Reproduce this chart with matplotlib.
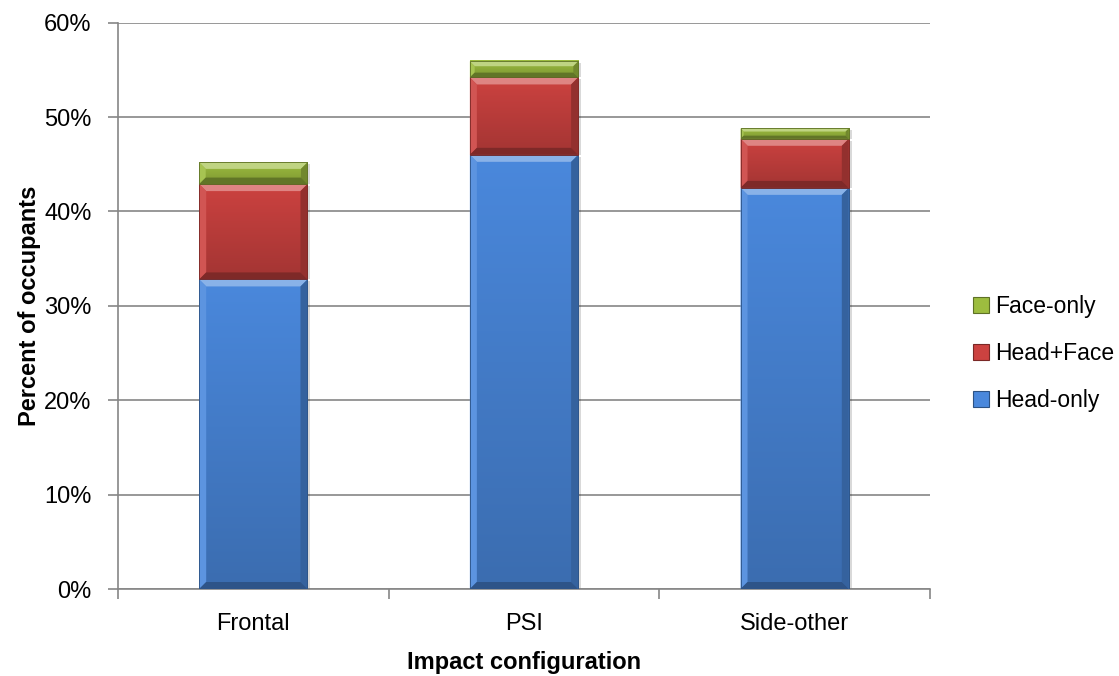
import matplotlib.pyplot as plt
import numpy as np
from matplotlib.patches import Polygon, Rectangle
from matplotlib.colors import to_rgb
from matplotlib.ticker import FuncFormatter, FixedLocator

plt.rcParams['font.family'] = ['Liberation Sans', 'DejaVu Sans']

categories = ["Frontal", "PSI", "Side-other"]
head_only = [32.8, 46.0, 42.5]
head_face = [10.1, 8.2, 5.2]
face_only = [2.3, 1.7, 1.1]

series_names = ["Head-only", "Head+Face", "Face-only"]
series_colors = ["#4a88dc", "#cc4240", "#9dbd3f"]

W, H, DPI = 11.19, 6.76, 100
fig = plt.figure(figsize=(W, H), dpi=DPI)
left, right, bottom, top = 118 / 1119, 930 / 1119, 1 - 589 / 676, 1 - 22.7 / 676
ax = fig.add_axes([left, bottom, right - left, top - bottom])

ymax = 60
ax.set_xlim(-0.5, len(categories) - 0.5)
ax.set_ylim(0, ymax)

# pixel -> data scales for the bevel edges
px_x = len(categories) / ((right - left) * W * DPI)
px_y = ymax / ((top - bottom) * H * DPI)


def mix(c, other, t):
    c = np.array(to_rgb(c))
    return tuple(c * (1 - t) + np.array(other) * t)


def bevel_bar(x0, y0, w, h, color):
    x1, y1 = x0 + w, y0 + h
    # soft shadow to the right
    ax.add_patch(Rectangle((x0 + 3 * px_x, y0), w, h - 2 * px_y, color='#000000',
                           alpha=0.15, lw=0, zorder=2))
    # body with vertical gradient, darker toward the bottom
    g = np.linspace(0, 1, 64)
    cols = np.array([mix(color, (0, 0, 0), 0.2 * (1 - t)) for t in g])
    ax.imshow(cols[:, None, :], extent=(x0, x1, y0, y1), origin='lower',
              aspect='auto', zorder=3, interpolation='bilinear')
    b = min(7, 0.3 * h / px_y)
    bx, by = b * px_x, b * px_y
    faces = [
        ([(x0, y1), (x1, y1), (x1 - bx, y1 - by), (x0 + bx, y1 - by)], mix(color, (1, 1, 1), 0.35)),
        ([(x0, y0), (x0, y1), (x0 + bx, y1 - by), (x0 + bx, y0 + by)], mix(color, (1, 1, 1), 0.1)),
        ([(x1, y0), (x1, y1), (x1 - bx, y1 - by), (x1 - bx, y0 + by)], mix(color, (0, 0, 0), 0.28)),
        ([(x0, y0), (x1, y0), (x1 - bx, y0 + by), (x0 + bx, y0 + by)], mix(color, (0, 0, 0), 0.38)),
    ]
    for pts, fc in faces:
        ax.add_patch(Polygon(pts, closed=True, facecolor=fc, lw=0, zorder=4))
    ax.add_patch(Rectangle((x0, y0), w, h, fill=False, ec=mix(color, (0, 0, 0), 0.4),
                           lw=0.6, zorder=5))


x = np.arange(len(categories))
bar_w = 0.40
base = np.zeros(len(categories))
for name, vals, color in zip(series_names, [head_only, head_face, face_only], series_colors):
    for xi, b0, v in zip(x, base, vals):
        bevel_bar(xi - bar_w / 2, b0, bar_w, v, color)
    base = base + np.array(vals)

# grid and axes styling
ax.set_yticks(np.arange(0, ymax + 1, 10))
ax.yaxis.set_major_formatter(FuncFormatter(lambda v, p: f"{v:.0f}%"))
ax.grid(axis='y', color='#868686', lw=1.2, zorder=0)
ax.set_axisbelow(True)
for s in ['top', 'right']:
    ax.spines[s].set_visible(False)
for s in ['left', 'bottom']:
    ax.spines[s].set_color('#868686')
    ax.spines[s].set_linewidth(1.2)

ax.set_xticks(x)
ax.set_xticklabels(categories)
ax.xaxis.set_minor_locator(FixedLocator(np.arange(-0.5, len(categories), 1.0)))
ax.tick_params(axis='x', which='major', length=0, pad=17, labelsize=17)
ax.tick_params(axis='x', which='minor', length=7, width=1.2, color='#868686', direction='out')
ax.tick_params(axis='y', length=7, width=1.2, color='#868686', pad=12, labelsize=17)

ax.set_xlabel("Impact configuration", fontsize=17, fontweight='bold', labelpad=12)
ax.set_ylabel("Percent of occupants", fontsize=17, fontweight='bold', labelpad=2)

# legend, top entry is the top stack
handles = [Rectangle((0, 0), 1, 1, fc=c, ec=mix(c, (0, 0, 0), 0.4), lw=0.8)
           for c in series_colors]
leg = fig.legend(handles[::-1], series_names[::-1], loc='center left',
                 bbox_to_anchor=(0.8695, 0.477), frameon=False, fontsize=16.5,
                 handlelength=0.68, handleheight=0.68, handletextpad=0.27,
                 labelspacing=1.06, borderaxespad=0, borderpad=0)

fig.savefig("out.png", dpi=DPI)
